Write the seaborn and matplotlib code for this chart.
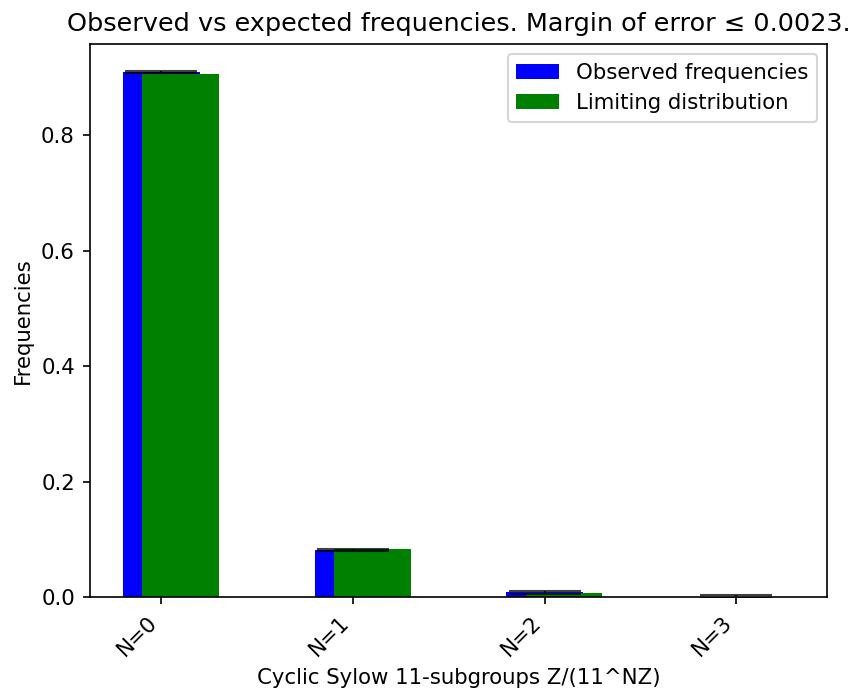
import numpy as np
import pandas as pd
import seaborn as sns
import matplotlib
matplotlib.use('Agg')
import matplotlib.pyplot as plt

# values
labels = ['N=0', 'N=1', 'N=2', 'N=3']
observed = [0.9095, 0.0815, 0.0082, 0.0008]
limiting = [0.9070, 0.0830, 0.0077, 0.0007]
margin = 0.0023

pos = np.arange(len(labels))
df_obs = pd.DataFrame({'x': pos, 'freq': observed})
df_lim = pd.DataFrame({'x': pos + 0.1, 'freq': limiting})

plt.rcParams['font.size'] = 10.2

fig, ax = plt.subplots(figsize=(853 / 150, 692 / 150), dpi=150)
fig.subplots_adjust(left=0.105, right=0.970, top=0.937, bottom=0.137)

sns.barplot(data=df_obs, x='x', y='freq', native_scale=True, width=0.4,
            color='blue', saturation=1, label='Observed frequencies', ax=ax)
ax.errorbar(pos, observed, yerr=margin, fmt='none', ecolor='black',
            capsize=17.5, elinewidth=1, alpha=0.75, zorder=4)
sns.barplot(data=df_lim, x='x', y='freq', native_scale=True, width=0.4,
            color='green', saturation=1, label='Limiting distribution', ax=ax)

ax.set_xlim(-0.375, 3.475)
ax.set_ylim(0, 0.959)
ax.set_xticks(pos)
ax.set_xticklabels(labels, rotation=45, ha='right')
ax.set_xlabel('Cyclic Sylow 11-subgroups Z/(11^NZ)')
ax.set_ylabel('Frequencies')
ax.set_title('Observed vs expected frequencies. Margin of error \u2264 0.0023.')
ax.legend(loc='upper right')

plt.savefig('out.png', dpi=150)
